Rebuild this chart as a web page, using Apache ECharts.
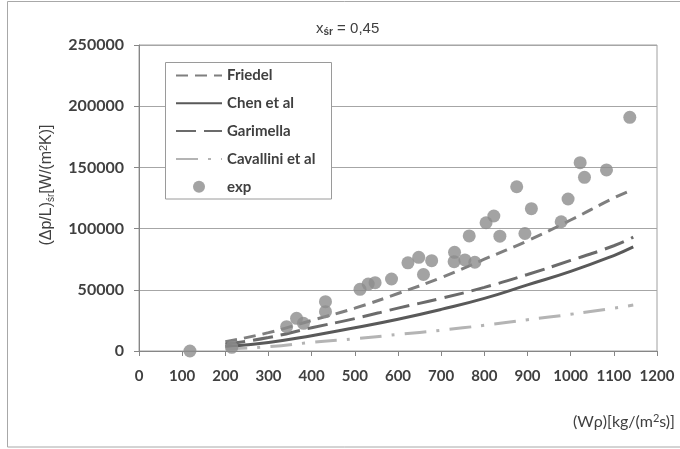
<!DOCTYPE html>
<html>
<head>
<meta charset="utf-8">
<script src="https://cdn.jsdelivr.net/npm/echarts@6/dist/echarts.min.js"></script>
<style>
  html, body { margin: 0; padding: 0; background: #fff; }
  #chart { width: 680px; height: 449px; }
</style>
</head>
<body>
<div id="chart"></div>
<script>
// Mass flux values where the correlation curves are evaluated
const curveX = [200, 300, 400, 500, 600, 700, 800, 900, 1000, 1100, 1145];
// Pressure-gradient correlations
const friedel   = [7600, 15000, 25000, 35000, 47000, 60000, 75000, 90000, 107000, 125000, 132000];
const chen      = [3500, 7000, 12500, 19000, 26000, 34000, 43000, 54000, 65000, 78000, 85000];
const garimella = [5500, 11000, 19000, 26500, 35000, 43000, 52000, 62500, 74000, 86000, 93000];
const cavallini = [1500, 3500, 7000, 10000, 13500, 17000, 21000, 25500, 30000, 35000, 37500];

// Measured points
const expX = [118, 215, 342, 365, 381, 432, 432, 512, 531, 547, 585, 623, 648, 659, 678,
              731, 730, 755, 778, 765, 804, 822, 836, 875, 894, 909, 978, 994, 1022, 1032, 1083, 1137];
const expY = [0, 3000, 19900, 26700, 22600, 40300, 32100, 50400, 54700, 55800, 58800, 72000, 76500, 62500, 73800,
              80600, 73000, 74400, 72500, 94000, 104800, 110300, 93800, 134200, 96000, 116300, 105600, 124200, 153900, 141900, 147900, 190900];

const lineNames = ['Friedel', 'Chen et al', 'Garimella', 'Cavallini et al'];
const pointName = 'exp';

const pairs = (xs, ys) => xs.map((x, i) => [x, ys[i]]);

const labelFont = { fontFamily: 'Lato', fontWeight: 'bold', fontSize: 15, color: '#404040' };

const chart = echarts.init(document.getElementById('chart'), null, { renderer: 'canvas' });

function curve(name, values, color, dash, width) {
  return {
    name: name,
    type: 'line',
    data: pairs(curveX, values),
    smooth: true,
    symbol: 'none',
    z: 2,
    lineStyle: { color: color, width: width, type: dash },
    itemStyle: { color: color }
  };
}

// Legend entries: curves show only their line, no marker
const legendData = lineNames.map(n => ({ name: n, itemStyle: { opacity: 0 } }))
  .concat([{ name: pointName }]);

chart.setOption({
  animation: false,
  backgroundColor: '#fff',
  title: {
    text: '{x|x}{s|śr}{x| = 0,45}',
    left: 311,
    top: 16,
    textStyle: {
      fontWeight: 'normal',
      rich: {
        x: { fontFamily: 'Liberation Sans', fontSize: 15, fontWeight: 'normal', color: '#404040', verticalAlign: 'top' },
        s: { fontFamily: 'Liberation Sans', fontSize: 10, fontWeight: 'bold', color: '#404040', verticalAlign: 'bottom', padding: [6, 0, 0, 0] }
      }
    }
  },
  grid: {
    left: 139, right: 23, top: 45, bottom: 98,
    show: true, borderColor: '#a0a0a0', borderWidth: 1
  },
  legend: {
    orient: 'vertical',
    left: 175,
    top: 68,
    padding: 0,
    itemWidth: 46,
    itemHeight: 12,
    itemGap: 12.8,
    z: 6,
    data: legendData,
    textStyle: labelFont
  },
  xAxis: {
    type: 'value',
    min: 0, max: 1200, interval: 100,
    axisLine: { show: true, lineStyle: { color: '#868686' } },
    axisTick: { show: true, inside: false, length: 5, lineStyle: { color: '#868686' } },
    splitLine: { show: false },
    axisLabel: Object.assign({ margin: 18, formatter: v => String(v) }, labelFont)
  },
  yAxis: {
    type: 'value',
    min: 0, max: 250000, interval: 50000,
    axisLine: { show: true, lineStyle: { color: '#868686' } },
    axisTick: { show: true, inside: false, length: 5, lineStyle: { color: '#868686' } },
    splitLine: { show: true, lineStyle: { color: '#a6a6a6', width: 1 } },
    axisLabel: Object.assign({ margin: 15, formatter: v => String(v) }, labelFont, { fontSize: 16 })
  },
  graphic: [
    { // outer frame
      type: 'rect', z: 0, silent: true,
      shape: { x: 7.5, y: 1.5, width: 700, height: 445.5 },
      style: { fill: null, stroke: '#a8a8a8', lineWidth: 1 }
    },
    { // legend box
      type: 'rect', z: 5, silent: true,
      shape: { x: 165.5, y: 62.5, width: 166, height: 136.5 },
      style: { fill: '#fff', stroke: '#9a9a9a', lineWidth: 1 }
    },
    { // y-axis title
      type: 'text', z: 5, silent: true,
      x: 47, y: 185, rotation: Math.PI / 2,
      style: {
        text: '{t|(Δp/L)}{s|śr}{t|[W/(m}{p|2}{t|K)]}',
        align: 'center', verticalAlign: 'middle',
        rich: {
          t: { fontFamily: 'Liberation Sans', fontSize: 16, fill: '#404040', verticalAlign: 'middle' },
          s: { fontFamily: 'Liberation Sans', fontSize: 10, fill: '#404040', verticalAlign: 'bottom', padding: [8, 0, 0, 0] },
          p: { fontFamily: 'Liberation Sans', fontSize: 11, fill: '#404040', verticalAlign: 'top', padding: [0, 0, 7, 0] }
        }
      }
    },
    { // x-axis title
      type: 'text', z: 5, silent: true,
      x: 675, y: 422,
      style: {
        text: '{t|(Wρ)[kg/(m}{p|2}{t|s)]}',
        align: 'right', verticalAlign: 'middle',
        rich: {
          t: { fontFamily: 'Lato', fontSize: 16, fill: '#404040', verticalAlign: 'middle' },
          p: { fontFamily: 'Lato', fontSize: 11, fill: '#404040', verticalAlign: 'top', padding: [0, 0, 7, 0] }
        }
      }
    }
  ],
  series: [
    curve(lineNames[0], friedel, '#7f7f7f', [12, 7], 3),
    curve(lineNames[1], chen, '#595959', 'solid', 3),
    curve(lineNames[2], garimella, '#6b6b6b', [20, 8], 3),
    curve(lineNames[3], cavallini, '#b4b4b4', [22, 10, 3, 10], 3),
    {
      name: pointName,
      type: 'scatter',
      data: pairs(expX, expY),
      symbol: 'circle',
      symbolSize: 13,
      z: 3,
      itemStyle: { color: '#8c8c8c' }
    }
  ]
});
</script>
</body>
</html>
